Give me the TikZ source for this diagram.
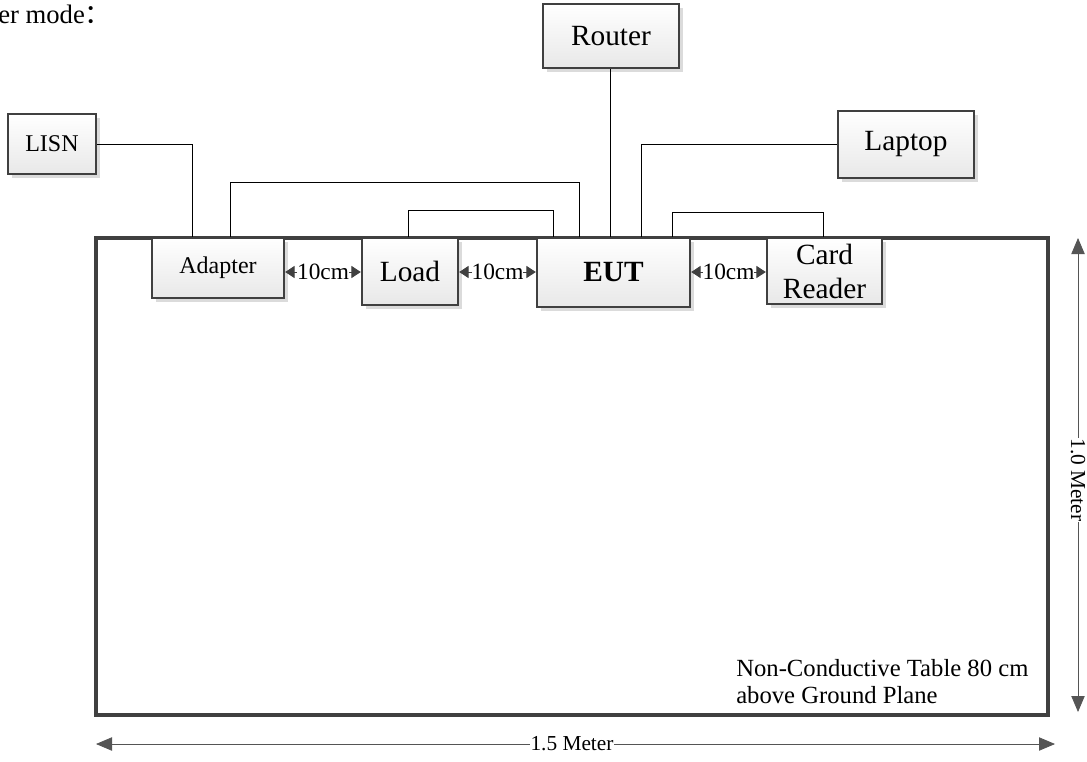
\documentclass[tikz,border=0pt]{standalone}
\usepackage{fontspec}
\setmainfont{Liberation Serif}
\newfontfamily\cjkfont{Noto Sans CJK SC}
\usetikzlibrary{shadows,arrows.meta,calc}
\definecolor{edgec}{HTML}{404040}
\definecolor{dimc}{HTML}{555555}
\begin{document}
\begin{tikzpicture}[x=0.75pt,y=-0.75pt,
  smallfont/.style={font=\fontsize{18}{21}\selectfont},
  largefont/.style={font=\fontsize{22}{25.5}\selectfont},
  devbox/.style={draw=edgec, line width=1.8pt, top color=white, bottom color=black!9,
    drop shadow={shadow xshift=3pt, shadow yshift=-3pt, fill=black!14, opacity=1},
    inner sep=0pt, align=center},
  tableline/.style={draw=edgec, line width=2.6pt},
  wire/.style={draw=black, line width=0.75pt},
  gaparrow/.style={draw=edgec, line width=0.75pt, {Triangle[length=7pt,width=9pt]}-{Triangle[length=7pt,width=9pt]}},
  gaplabel/.style={font=\fontsize{17.5}{20}\selectfont, fill=white, inner sep=0pt},
  dimarrow/.style={draw=dimc, line width=0.6pt, {Triangle[length=12pt,width=10pt]}-{Triangle[length=12pt,width=10pt]}},
  dimlabel/.style={font=\fontsize{16}{19}\selectfont, fill=white, inner sep=0.5pt}
]
\useasboundingbox (0,0) rectangle (1087,761);

% heading fragment
\node[font=\fontsize{20}{24}\selectfont, anchor=base west, inner sep=0pt] (head) at (-2,23) {er mode\cjkfont ：};

% table
\draw[tableline] (96,238) rectangle (1048,715);

% devices (sizes in pt = 0.75 x pixels)
\node[devbox, smallfont, minimum width=66pt, minimum height=45pt] (lisn) at (52,144) {LISN};
\node[devbox, largefont, minimum width=102pt, minimum height=48pt] (router) at (611,36) {Router};
\node[devbox, largefont, minimum width=102pt, minimum height=50.25pt] (laptop) at (906,144.5) {Laptop};
\node[devbox, smallfont, minimum width=99pt, minimum height=45pt] (adapter) at (218,268) {Adapter};
\node[devbox, largefont, minimum width=72pt, minimum height=50.25pt] (load) at (410,271.5) {Load};
\node[devbox, largefont, minimum width=114.75pt, minimum height=51.75pt] (eut) at (613.5,272.5) {\bfseries EUT};
\node[devbox, largefont, minimum width=86.25pt, minimum height=49.5pt] (card) at (824.5,271) {Card\\Reader};

% cables
\draw[wire] (lisn.east) -| ($(adapter.north)+(-26,0)$);
\draw[wire] ($(adapter.north)+(12,0)$) -- ++(0,-54) -| ($(eut.north)+(-34.5,0)$);
\draw[wire] ($(load.north)+(-2,0)$) -- ++(0,-26) -| ($(eut.north)+(-60.5,0)$);
\draw[wire] ($(router.south)+(-1,0)$) -- ($(eut.north)+(-3.5,0)$);
\draw[wire] (laptop.west) -| ($(eut.north)+(27.5,0)$);
\draw[wire] ($(card.north)+(-1.5,0)$) -- ++(0,-24) -| ($(eut.north)+(58.5,0)$);

% 10 cm spacings
\draw[gaparrow] (adapter.east |- 0,272) -- (load.west |- 0,272) node[midway, gaplabel] (g1) {10cm};
\draw[gaparrow] (load.east |- 0,272) -- (eut.west |- 0,272) node[midway, gaplabel] (g2) {10cm};
\draw[gaparrow] (eut.east |- 0,272) -- (card.west |- 0,272) node[midway, gaplabel] (g3) {10cm};

% table note
\node[font=\fontsize{18.5}{21}\selectfont, anchor=base west, inner sep=0pt] (note1) at (736,676) {Non-Conductive Table 80 cm};
\node[font=\fontsize{18.5}{21}\selectfont, anchor=base west, inner sep=0pt] (note2) at (736,703) {above Ground Plane};

% dimensions
\coordinate (vt) at (1078,238);
\coordinate (vb) at (1078,712);
\coordinate (hl) at (96,744);
\coordinate (hr) at (1055,744);
\draw[dimarrow] (vt) -- (vb);
\node[dimlabel, rotate=-90] (vlab) at (1078,480) {1.0 Meter};
\draw[dimarrow] (hl) -- (hr);
\node[dimlabel] (hlab) at (572,744) {1.5 Meter};
\end{tikzpicture}
\end{document}
